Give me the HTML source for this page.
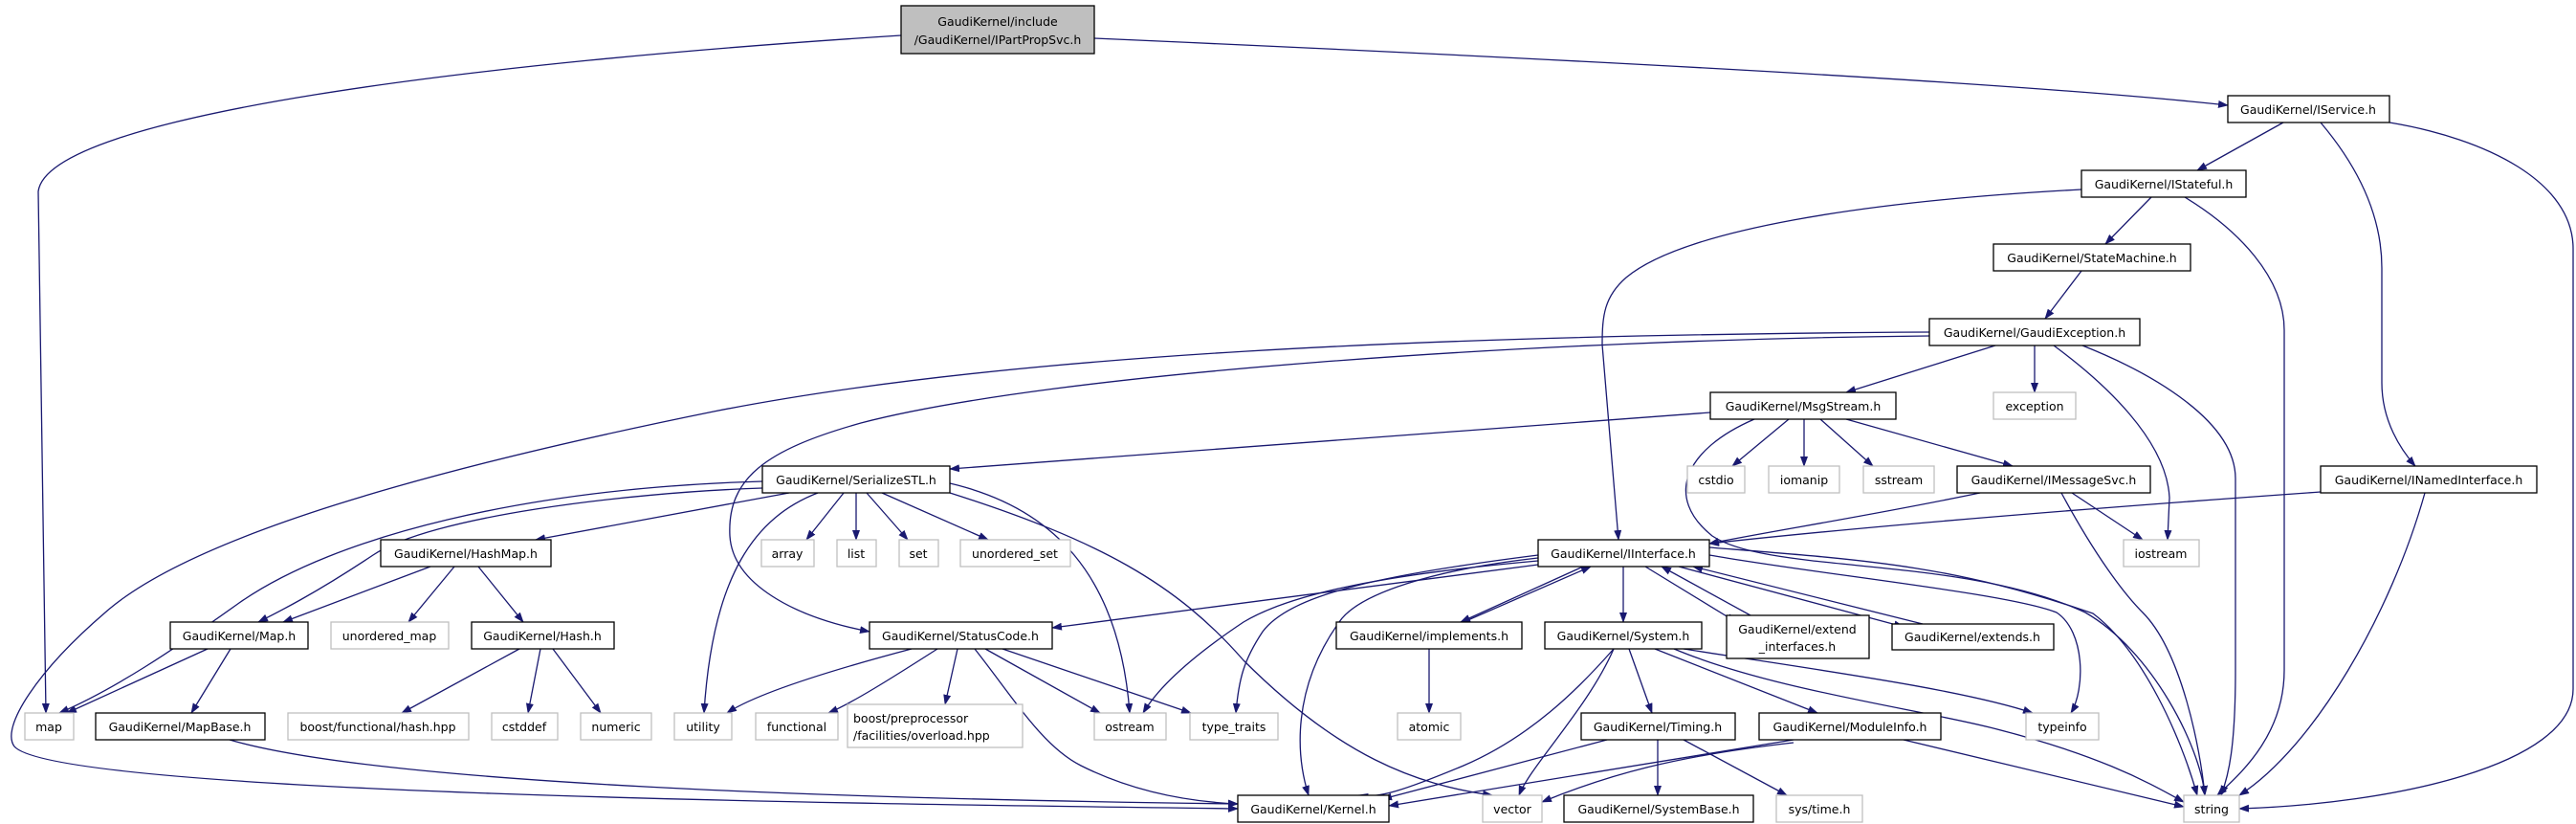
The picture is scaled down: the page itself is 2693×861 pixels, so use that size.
<!DOCTYPE html>
<html><head><meta charset="utf-8"><style>
html,body{margin:0;padding:0;background:#fff;}
svg{display:block;}
text{font-family:"DejaVu Sans","Liberation Sans",sans-serif;font-size:12.5px;fill:#000;text-anchor:middle;}
.e{fill:none;stroke:#191970;stroke-width:1.3;marker-end:url(#a);}
.n{fill:#fff;stroke:#000;stroke-width:1.3;}
.g{fill:#fff;stroke:#bfbfbf;stroke-width:1.3;}
</style></head><body>
<svg width="2693" height="861" viewBox="0 0 2693 861" xmlns="http://www.w3.org/2000/svg">
<defs><marker id="a" markerWidth="11" markerHeight="8" refX="10" refY="4" orient="auto" markerUnits="userSpaceOnUse"><path d="M0,0 L11,4 L0,8 Z" fill="#191970"/></marker></defs>
<g>
<path class="e" d="M942,37 C500,65 50,120 40,200 L48,745"/>
<path class="e" d="M1144,40 C1600,60 2100,85 2329,110"/>
<path class="e" d="M2387,128 L2297,178"/>
<path class="e" d="M2426,128 C2470,180 2490,230 2490,280 L2490,400 C2490,440 2510,470 2525,487"/>
<path class="e" d="M2498,128 C2600,145 2690,190 2690,260 L2690,720 C2690,800 2500,840 2341,845"/>
<path class="e" d="M2176,198 C1950,210 1760,240 1700,290 C1677,310 1675,330 1675,360 L1692,564"/>
<path class="e" d="M2249,206 L2201,255"/>
<path class="e" d="M2284,206 C2340,240 2388,290 2388,345 L2388,700 C2388,770 2340,810 2318,831"/>
<path class="e" d="M2176,283 L2138,333"/>
<path class="e" d="M2017,347 C1500,350 1050,370 746,430 C450,490 200,560 110,640 C40,700 0,760 15,780 C60,830 900,840 1294,845"/>
<path class="e" d="M2017,351 C1600,355 1100,390 900,442 C800,470 760,500 763,560 C766,610 830,645 909,660"/>
<path class="e" d="M2086,361 L1930,410"/>
<path class="e" d="M2127,361 L2127,410"/>
<path class="e" d="M2147,361 C2200,400 2265,460 2268,520 L2266,564"/>
<path class="e" d="M2177,361 C2250,390 2337,440 2337,500 L2337,700 C2337,780 2330,810 2322,831"/>
<path class="e" d="M1788,431 L993,490"/>
<path class="e" d="M1870,438 L1811,487"/>
<path class="e" d="M1886,438 L1886,487"/>
<path class="e" d="M1903,438 L1958,487"/>
<path class="e" d="M1930,438 L2104,487"/>
<path class="e" d="M1834,438 C1760,470 1740,520 1790,560 C1850,600 2050,580 2180,640 C2250,680 2300,780 2305,831"/>
<path class="e" d="M2070,515 C1950,540 1850,555 1787,568"/>
<path class="e" d="M2166,515 L2240,564"/>
<path class="e" d="M2155,515 C2190,580 2220,620 2240,640 C2280,680 2300,780 2305,831"/>
<path class="e" d="M2426,514 C2200,530 1950,550 1787,568"/>
<path class="e" d="M2535,515 C2500,640 2420,780 2341,831"/>
<path class="e" d="M797,503 C550,510 350,560 250,630 C180,680 120,720 62,745"/>
<path class="e" d="M797,510 C650,515 450,540 390,580 C330,620 290,640 270,650"/>
<path class="e" d="M825,515 L560,564"/>
<path class="e" d="M855,515 C790,540 745,600 736,745"/>
<path class="e" d="M882,515 L843,564"/>
<path class="e" d="M895,515 L895,564"/>
<path class="e" d="M906,515 L949,564"/>
<path class="e" d="M922,515 L1033,564"/>
<path class="e" d="M993,505 C1100,530 1170,600 1181,745"/>
<path class="e" d="M993,515 C1150,565 1230,610 1300,690 C1400,790 1480,820 1560,831"/>
<path class="e" d="M450,592 L296,650"/>
<path class="e" d="M475,592 L427,650"/>
<path class="e" d="M500,592 L547,650"/>
<path class="e" d="M217,678 L70,745"/>
<path class="e" d="M241,678 L200,745"/>
<path class="e" d="M543,678 L420,745"/>
<path class="e" d="M565,678 L552,745"/>
<path class="e" d="M578,678 L628,745"/>
<path class="e" d="M240,773 C400,820 900,835 1294,840"/>
<path class="e" d="M953,678 C870,700 790,725 760,745"/>
<path class="e" d="M980,678 C930,710 890,735 866,745"/>
<path class="e" d="M1001,678 L988,736"/>
<path class="e" d="M1030,678 L1150,745"/>
<path class="e" d="M1048,678 L1245,745"/>
<path class="e" d="M1019,678 C1060,730 1090,780 1130,800 C1190,830 1250,838 1294,840"/>
<path class="e" d="M1608,590 L1100,656"/>
<path class="e" d="M1608,586 C1450,600 1350,620 1300,650 C1240,690 1210,720 1195,745"/>
<path class="e" d="M1608,580 C1450,600 1350,620 1320,660 C1300,690 1295,710 1292,745"/>
<path class="e" d="M1608,583 C1500,595 1420,620 1400,650 C1350,720 1355,790 1368,831"/>
<path class="e" d="M1655,592 L1527,650"/>
<path class="e" d="M1530,650 L1663,592"/>
<path class="e" d="M1697,592 L1697,650"/>
<path class="e" d="M1720,592 L1815,650"/>
<path class="e" d="M1830,643 L1737,592"/>
<path class="e" d="M1755,592 L1990,655"/>
<path class="e" d="M2010,652 L1770,592"/>
<path class="e" d="M1787,580 C1900,600 2100,620 2150,640 C2180,660 2180,720 2165,745"/>
<path class="e" d="M1787,572 C1950,585 2040,590 2188,641 C2240,680 2280,770 2297,831"/>
<path class="e" d="M1494,678 L1494,745"/>
<path class="e" d="M1687,678 C1650,720 1600,770 1530,800 C1470,825 1440,835 1420,831"/>
<path class="e" d="M1687,678 C1660,740 1600,800 1588,831"/>
<path class="e" d="M1703,678 L1727,745"/>
<path class="e" d="M1730,678 L1900,745"/>
<path class="e" d="M1750,678 C1850,720 2000,740 2080,760 C2200,790 2250,820 2283,838"/>
<path class="e" d="M1760,678 C1900,700 2050,720 2125,745"/>
<path class="e" d="M1680,773 L1445,835"/>
<path class="e" d="M1733,773 L1733,831"/>
<path class="e" d="M1760,773 L1868,831"/>
<path class="e" d="M1875,773 L1452,842"/>
<path class="e" d="M1875,776 C1750,790 1680,810 1612,838"/>
<path class="e" d="M1990,773 L2283,843"/>
</g>
<g>
<rect x="942" y="6" width="202" height="50" fill="#bfbfbf" stroke="#000" stroke-width="1.3"/>
<text x="1043" y="27">GaudiKernel/include</text><text x="1043" y="46">/GaudiKernel/IPartPropSvc.h</text>
<rect class="n" x="2329" y="100" width="169" height="28"/><text x="2413" y="119">GaudiKernel/IService.h</text>
<rect class="n" x="2176" y="178" width="172" height="28"/><text x="2262" y="197">GaudiKernel/IStateful.h</text>
<rect class="n" x="2084" y="255" width="206" height="28"/><text x="2187" y="274">GaudiKernel/StateMachine.h</text>
<rect class="n" x="2017" y="333" width="220" height="28"/><text x="2127" y="352">GaudiKernel/GaudiException.h</text>
<rect class="n" x="1788" y="410" width="194" height="28"/><text x="1885" y="429">GaudiKernel/MsgStream.h</text>
<rect class="g" x="2084" y="410" width="86" height="28"/><text x="2127" y="429">exception</text>
<rect class="n" x="797" y="487" width="196" height="28"/><text x="895" y="506">GaudiKernel/SerializeSTL.h</text>
<rect class="g" x="1764" y="487" width="60" height="28"/><text x="1794" y="506">cstdio</text>
<rect class="g" x="1849" y="487" width="74" height="28"/><text x="1886" y="506">iomanip</text>
<rect class="g" x="1948" y="487" width="74" height="28"/><text x="1985" y="506">sstream</text>
<rect class="n" x="2046" y="487" width="202" height="28"/><text x="2147" y="506">GaudiKernel/IMessageSvc.h</text>
<rect class="n" x="2426" y="487" width="226" height="28"/><text x="2539" y="506">GaudiKernel/INamedInterface.h</text>
<rect class="n" x="398" y="564" width="178" height="28"/><text x="487" y="583">GaudiKernel/HashMap.h</text>
<rect class="g" x="796" y="564" width="55" height="28"/><text x="823" y="583">array</text>
<rect class="g" x="875" y="564" width="41" height="28"/><text x="895" y="583">list</text>
<rect class="g" x="940" y="564" width="41" height="28"/><text x="960" y="583">set</text>
<rect class="g" x="1004" y="564" width="115" height="28"/><text x="1061" y="583">unordered_set</text>
<rect class="n" x="1608" y="564" width="179" height="28"/><text x="1697" y="583">GaudiKernel/IInterface.h</text>
<rect class="g" x="2220" y="564" width="79" height="28"/><text x="2259" y="583">iostream</text>
<rect class="n" x="178" y="650" width="144" height="28"/><text x="250" y="669">GaudiKernel/Map.h</text>
<rect class="g" x="346" y="650" width="123" height="28"/><text x="407" y="669">unordered_map</text>
<rect class="n" x="493" y="650" width="149" height="28"/><text x="567" y="669">GaudiKernel/Hash.h</text>
<rect class="n" x="909" y="650" width="191" height="28"/><text x="1004" y="669">GaudiKernel/StatusCode.h</text>
<rect class="n" x="1397" y="650" width="194" height="28"/><text x="1494" y="669">GaudiKernel/implements.h</text>
<rect class="n" x="1615" y="650" width="164" height="28"/><text x="1697" y="669">GaudiKernel/System.h</text>
<rect class="n" x="1805" y="643" width="149" height="45"/><text x="1879" y="662">GaudiKernel/extend</text><text x="1879" y="680">_interfaces.h</text>
<rect class="n" x="1978" y="652" width="169" height="27"/><text x="2062" y="670">GaudiKernel/extends.h</text>
<rect class="g" x="26" y="745" width="51" height="28"/><text x="51" y="764">map</text>
<rect class="n" x="100" y="745" width="177" height="28"/><text x="188" y="764">GaudiKernel/MapBase.h</text>
<rect class="g" x="301" y="745" width="189" height="28"/><text x="395" y="764">boost/functional/hash.hpp</text>
<rect class="g" x="514" y="745" width="69" height="28"/><text x="548" y="764">cstddef</text>
<rect class="g" x="607" y="745" width="74" height="28"/><text x="644" y="764">numeric</text>
<rect class="g" x="705" y="745" width="60" height="28"/><text x="735" y="764">utility</text>
<rect class="g" x="790" y="745" width="86" height="28"/><text x="833" y="764">functional</text>
<rect class="g" x="886" y="736" width="183" height="45"/><text x="972" y="755" style="text-anchor:start" transform="translate(-80,0)">boost/preprocessor</text><text x="892" y="773" style="text-anchor:start">/facilities/overload.hpp</text>
<rect class="g" x="1144" y="745" width="75" height="28"/><text x="1181" y="764">ostream</text>
<rect class="g" x="1244" y="745" width="92" height="28"/><text x="1290" y="764">type_traits</text>
<rect class="g" x="1461" y="745" width="66" height="28"/><text x="1494" y="764">atomic</text>
<rect class="n" x="1653" y="745" width="161" height="28"/><text x="1733" y="764">GaudiKernel/Timing.h</text>
<rect class="n" x="1839" y="745" width="190" height="28"/><text x="1934" y="764">GaudiKernel/ModuleInfo.h</text>
<rect class="g" x="2118" y="745" width="76" height="28"/><text x="2156" y="764">typeinfo</text>
<rect class="n" x="1294" y="831" width="158" height="28"/><text x="1373" y="850">GaudiKernel/Kernel.h</text>
<rect class="g" x="1550" y="831" width="62" height="28"/><text x="1581" y="850">vector</text>
<rect class="n" x="1635" y="831" width="198" height="28"/><text x="1734" y="850">GaudiKernel/SystemBase.h</text>
<rect class="g" x="1857" y="831" width="90" height="28"/><text x="1902" y="850">sys/time.h</text>
<rect class="g" x="2283" y="831" width="58" height="28"/><text x="2312" y="850">string</text>
</g>
</svg>
</body></html>
